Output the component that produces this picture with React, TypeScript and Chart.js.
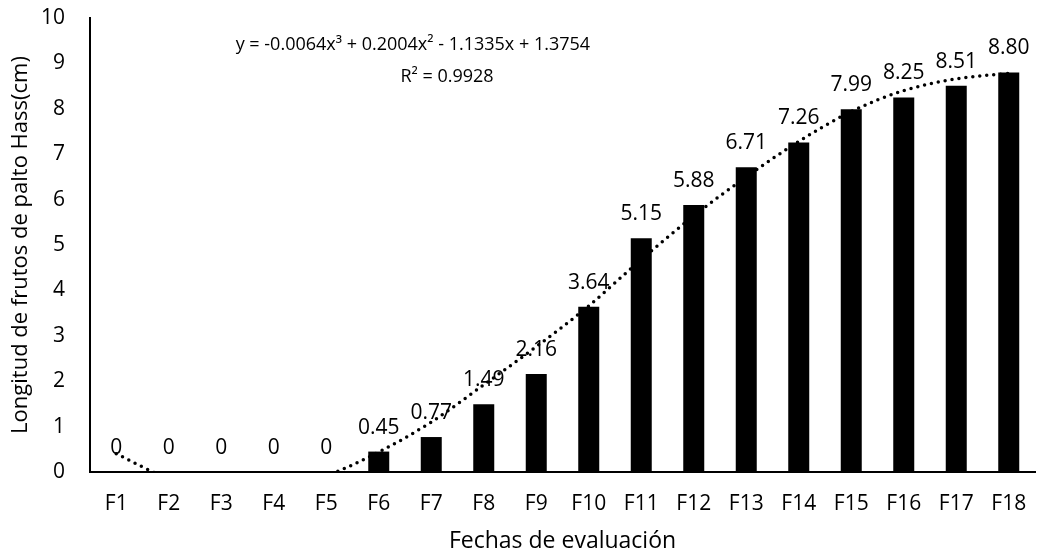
import { useEffect, useRef } from 'react';
import { Chart, registerables } from 'chart.js';

Chart.register(...registerables);

const categories = ['F1', 'F2', 'F3', 'F4', 'F5', 'F6', 'F7', 'F8', 'F9', 'F10', 'F11', 'F12', 'F13', 'F14', 'F15', 'F16', 'F17', 'F18'];
const lengths = [0, 0, 0, 0, 0, 0.45, 0.77, 1.49, 2.16, 3.64, 5.15, 5.88, 6.71, 7.26, 7.99, 8.25, 8.51, 8.8];
// dotted polynomial trendline at each category
const trend = [0.4, -0.14, -0.39, -0.36, -0.08, 0.44, 1.1, 1.92, 2.76, 3.66, 4.68, 5.64, 6.5, 7.28, 7.94, 8.4, 8.66, 8.78];
const yMin = 0;
const yMax = 10;
const yStep = 1;
const equationLines = ['y = -0.0064x³ + 0.2004x² - 1.1335x + 1.3754', 'R² = 0.9928'];
const xTitle = 'Fechas de evaluación';
const yTitle = 'Longitud de frutos de palto Hass(cm)';

const FONT = '"Open Sans", sans-serif';
const BAR_INDEX = 1;

const labelPlugin = {
  id: 'barValueLabels',
  beforeDatasetsDraw(chart: any) {
    const meta = chart.getDatasetMeta(BAR_INDEX);
    const ctx = chart.ctx;
    ctx.save();
    ctx.font = `21px ${FONT}`;
    ctx.fillStyle = '#000';
    ctx.textAlign = 'center';
    ctx.textBaseline = 'alphabetic';
    meta.data.forEach((bar: any, i: number) => {
      const v = lengths[i];
      const txt = v === 0 ? '0' : v.toFixed(2);
      ctx.fillText(txt, bar.x, bar.y - 18);
    });
    ctx.restore();
  },
  afterDraw(chart: any) {
    const ctx = chart.ctx;
    const xs = chart.scales.x;
    const ys = chart.scales.y;
    ctx.save();
    ctx.font = `18px ${FONT}`;
    ctx.fillStyle = '#000';
    ctx.textAlign = 'center';
    ctx.textBaseline = 'alphabetic';
    ctx.fillText(equationLines[0], xs.getPixelForValue(5.65), ys.getPixelForValue(9.3));
    ctx.fillText(equationLines[1], xs.getPixelForValue(6.3), ys.getPixelForValue(8.59));
    ctx.restore();
  },
};

export default function App() {
  const ref = useRef<HTMLCanvasElement | null>(null);

  useEffect(() => {
    if (!ref.current) return;
    Chart.defaults.font.family = FONT;
    Chart.defaults.color = '#000';
    const chart = new Chart(ref.current, {
      type: 'bar',
      data: {
        labels: categories,
        datasets: [
          {
            type: 'line',
            data: trend,
            borderColor: '#000',
            borderWidth: 3.5,
            borderDash: [0, 7],
            borderCapStyle: 'round',
            pointRadius: 0,
            fill: false,
            cubicInterpolationMode: 'monotone',
            clip: 0,
            order: 0,
          } as any,
          {
            type: 'bar',
            data: lengths,
            backgroundColor: '#000',
            borderWidth: 0,
            barPercentage: 0.4,
            categoryPercentage: 1,
            order: 1,
          } as any,
        ],
      },
      options: {
        animation: false,
        responsive: false,
        maintainAspectRatio: false,
        layout: { padding: { left: 0, right: 8, top: 18, bottom: 0 } },
        plugins: {
          legend: { display: false },
          tooltip: { enabled: false },
        },
        scales: {
          x: {
            grid: { display: false, drawTicks: false },
            border: { display: true, color: '#000', width: 2 },
            ticks: { font: { size: 21 }, color: '#000', padding: 19, maxRotation: 0, autoSkip: false },
            title: { display: true, text: xTitle, font: { size: 23 }, color: '#000', padding: { top: 0, bottom: 1 } },
            afterFit: (s: any) => { s.height = 84; s.paddingLeft = 0; s.paddingRight = 0; },
          },
          y: {
            min: yMin,
            max: yMax,
            grid: { display: false, drawTicks: false },
            border: { display: true, color: '#000', width: 2 },
            ticks: { stepSize: yStep, font: { size: 21 }, color: '#000', padding: 25 },
            title: { display: true, text: yTitle, font: { size: 22 }, color: '#000', padding: { top: 8, bottom: 0 } },
            afterFit: (s: any) => { s.width = 90; s.paddingTop = 0; s.paddingBottom = 0; },
          },
        },
      } as any,
      plugins: [labelPlugin],
    });
    return () => chart.destroy();
  }, []);

  return (
    <div style={{ position: 'fixed', left: 0, top: 0, width: 1043, height: 556, background: '#fff' }}>
      <canvas ref={ref} width={1043} height={556} />
    </div>
  );
}
